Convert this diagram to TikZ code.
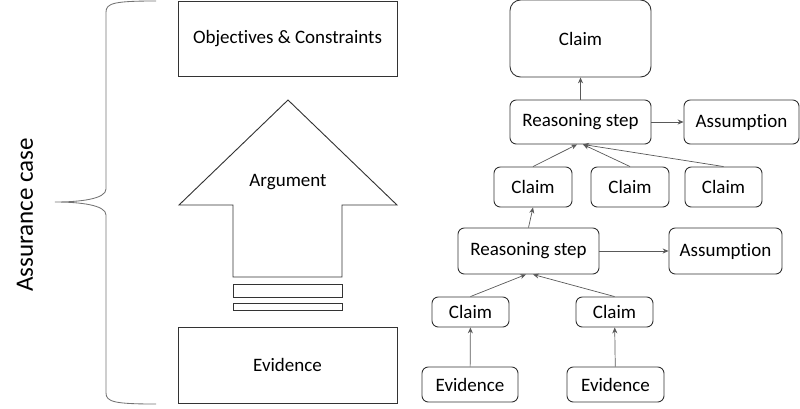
\documentclass[tikz,border=0pt]{standalone}
\usepackage{fontspec}
\setmainfont{Carlito}[Ligatures=NoCommon]
\usepackage{tikz}
\usetikzlibrary{positioning,arrows.meta}
\tikzset{>={Stealth[length=4.2pt,width=3.6pt]}}
\newcommand{\pxu}{0.025cm}
\tikzset{
    box/.style={draw=black!80, line width=0.65pt, inner sep=0pt, align=center, font=\fontsize{13.5}{16}\selectfont},
    rbox/.style={box, rounded corners=4.5pt},
    link/.style={->, draw=black!65, line width=0.5pt},
}

\begin{document}
\begin{tikzpicture}[x=\pxu, y=-\pxu]
    \useasboundingbox (0,0) rectangle (800,408);
    % brace and label
    \draw[black!55, line width=0.6pt] (156,1) .. controls (115,1) and (106,3) .. (106,12) -- (106,189) .. controls (106,199) and (80,202) .. (55,202) .. controls (80,202) and (106,205) .. (106,215) -- (106,393) .. controls (106,402) and (115,404) .. (156,404);
    \node[rotate=90, font=\fontsize{17.8}{20}\selectfont] (ac) at (25,215) {Assurance case};
    % left column
    \node[box, minimum width=219*\pxu, minimum height=75*\pxu] (obj) at (287.5,38.5) {Objectives \& Constraints};
    \node[box, minimum width=219*\pxu, minimum height=76*\pxu] (evid) at (287.5,365) {Evidence};
    \draw[black!80, line width=0.65pt] (288,100) -- (397,205) -- (342,205) -- (342,277) -- (233,277) -- (233,205) -- (179,205) -- cycle;
    \node[font=\fontsize{13.5}{16}\selectfont] (arg) at (288,182) {Argument};
    \draw[black!80, line width=0.65pt] (233,284) rectangle (342,297);
    \draw[black!80, line width=0.65pt] (233,303) rectangle (342,310);
    % right column
    \node[box, rounded corners=7.5pt, minimum width=141*\pxu, minimum height=77*\pxu] (claim0) at (580.5,38.5) {Claim};
    \node[rbox, minimum width=141*\pxu, minimum height=44*\pxu] (rs1) at (580.5,122) {Reasoning step};
    \node[rbox, minimum width=115*\pxu, minimum height=44*\pxu] (as1) at (741.5,122) {Assumption};
    \node[rbox, minimum width=78*\pxu, minimum height=40*\pxu] (ca) at (533,187) {Claim};
    \node[rbox, minimum width=78*\pxu, minimum height=40*\pxu] (cb) at (630,187) {Claim};
    \node[rbox, minimum width=77*\pxu, minimum height=40*\pxu] (cc) at (723.5,187) {Claim};
    \node[rbox, minimum width=141*\pxu, minimum height=46*\pxu] (rs2) at (528.5,251) {Reasoning step};
    \node[rbox, minimum width=113*\pxu, minimum height=46*\pxu] (as2) at (725.5,251) {Assumption};
    \node[rbox, minimum width=77*\pxu, minimum height=30*\pxu] (cd) at (470.5,312) {Claim};
    \node[rbox, minimum width=77*\pxu, minimum height=30*\pxu] (ce) at (614.5,312) {Claim};
    \node[rbox, minimum width=96*\pxu, minimum height=35*\pxu] (ed) at (470,384.5) {Evidence};
    \node[rbox, minimum width=97*\pxu, minimum height=35*\pxu] (ee) at (615.5,384.5) {Evidence};
    % connectors
    \draw[link] (rs1) -- (claim0);
    \draw[link] (rs1) -- (as1);
    \draw[link] (ca.north) -- ([xshift=-3.5*\pxu]rs1.south);
    \draw[link] (cb.north) -- ([xshift=2.5*\pxu]rs1.south);
    \draw[link] (cc.north) -- ([xshift=2.5*\pxu]rs1.south);
    \draw[link] (rs2.north) -- (ca.south);
    \draw[link] (rs2) -- (as2);
    \draw[link] (cd.north) -- ([xshift=-2.5*\pxu]rs2.south);
    \draw[link] (ce.north) -- ([xshift=4.5*\pxu]rs2.south);
    \draw[link] (ed) -- (cd);
    \draw[link] (ee) -- (ce);
\end{tikzpicture}
\end{document}
